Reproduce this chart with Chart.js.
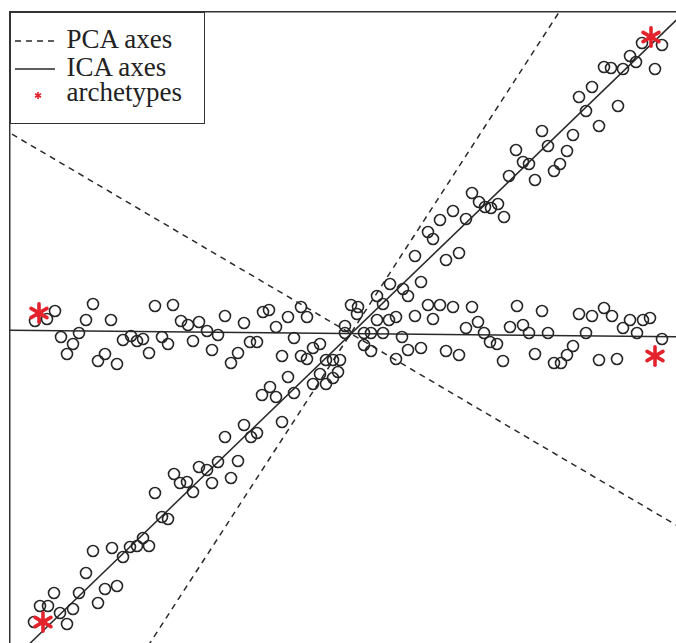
<!DOCTYPE html>
<html>
<head>
<meta charset="utf-8">
<script src="https://cdn.jsdelivr.net/npm/chart.js@4.4.1/dist/chart.umd.min.js"></script>
<style>
  html, body { margin: 0; padding: 0; background: #fff; }
  #wrap { position: relative; width: 676px; height: 643px; overflow: hidden; }
  #legend {
    position: absolute; left: 10px; top: 12px; width: 195px; height: 112px;
    box-sizing: border-box; border: 1.5px solid #333; background: #fff;
    font-family: "Liberation Serif", "Times New Roman", serif; font-size: 27px; color: #222;
  }
  .row { position: absolute; left: 0; width: 190px; height: 28px; line-height: 28px; white-space: nowrap; }
  .row svg { position: absolute; left: 3.5px; top: 0; }
  .row span { position: absolute; left: 55.5px; top: 0; }
</style>
</head>
<body>
<div id="wrap">
  <canvas id="myChart" width="676" height="643"></canvas>
  <div id="legend"></div>
</div>
<script>
// observations (two mixed sources)
var pointX = [
  -2.88, -2.96, -3.08, -2.50, -2.57, -2.32, -2.82, -2.64, -2.70, -2.76, -2.38, -2.45, -2.26,
  -1.88, -1.70, -1.62, -1.55, -1.44, -1.36, -1.25, -1.18, -2.20, -2.12, -2.06, -2.00, -1.81,
  -1.75, -1.94, -1.50, -1.31, -1.12, -1.05, -0.99, -0.93, -0.86, -0.80, -0.74, -0.67, -0.61,
  -0.55, -0.49, -0.42, -0.36, -0.42, -0.36, -0.30, -0.23, -0.17, -0.10, -0.03,
  0.02, 0.02, 0.08, 0.15, 0.14, 0.21, 0.28, 0.40, 0.21, 0.28, 0.59, 0.53, 0.65, 0.78, 1.03,
  1.16, 0.34, 0.46, 0.53, 0.72, 0.90, 0.85, 0.97, 1.10, 1.29,
  1.23, 1.35, 1.41, 1.47, 1.54, 1.67, 1.80, 1.86, 2.05, 2.43, 2.30, 2.24, 2.18, 2.11, 1.92,
  1.60, 2.56, 2.74, 1.74, 1.99, 2.36, 2.49, 2.61, 2.69, 2.87, 3.00, 3.07, 2.80, 2.94, 3.19,
  -0.55, -0.23, -0.05, -0.10, -0.30, -0.17, -0.73, -0.81, -0.67, -0.49, -0.61,
  -0.99, -0.92, -0.86, -1.18, -1.25, -1.05, -1.12, -1.31, -1.44, -1.36, -1.56, -1.63, -1.50,
  -1.69, -1.88, -1.81, -1.75, -2.00, -1.94, -2.13, -2.06, -2.20, -2.31, -2.50, -2.57, -2.64,
  -2.38, -2.26, -2.45, -2.70, -2.83, -2.89, -2.95, -3.03, -2.76, -3.09,
  0.34, 0.40, 0.47, 0.60, 0.65, 0.78, 0.72, 0.85, 0.90, 0.97, 1.03, 1.10, 1.16, 1.23, 1.29,
  1.36, 1.42, 1.48, 1.55, 1.61, 1.66, 1.73, 1.80, 1.86, 1.92, 1.99, 2.05, 2.11, 2.17, 2.24,
  2.30, 2.36, 2.43, 2.49, 2.56, 2.61, 2.68, 2.75, 2.80, 2.87, 2.93, 2.99, 3.12, 3.19
];
var pointY = [
  0.22, 0.14, 0.12, 0.29, 0.13, 0.13, -0.04, 0.00, -0.11, -0.21, -0.21, -0.28, -0.31,
  0.27, 0.28, 0.12, 0.08, 0.11, 0.02, -0.02, 0.17, -0.07, -0.03, -0.08, -0.06, -0.04,
  -0.11, -0.20, -0.08, -0.17, -0.30, -0.20, 0.10, -0.09, -0.09, 0.21, 0.23, 0.06, -0.23,
  0.16, -0.05, 0.26, 0.16, -0.23, -0.26, -0.15, -0.11, -0.27, -0.27, -0.27,
  0.07, 0.00, 0.28, 0.26, 0.19, 0.00, 0.00, 0.00, -0.12, -0.18, -0.04, -0.26, -0.17, -0.15, -0.18,
  -0.22, 0.13, 0.13, 0.16, 0.17, 0.14, 0.28, 0.28, 0.26, 0.26,
  0.05, 0.11, 0.00, -0.09, -0.11, 0.06, 0.08, 0.00, 0.00, 0.00, -0.13, -0.22, -0.30, -0.30, -0.21,
  -0.28, -0.27, -0.26, 0.27, 0.22, 0.19, 0.17, 0.25, 0.17, 0.13, 0.13, 0.15, 0.05, 0.00, -0.06,
  -0.44, -0.41, -0.39, -0.45, -0.51, -0.51, -0.54, -0.62, -0.64, -0.60, -0.89,
  -0.92, -1.04, -1.00, -1.04, -1.29, -1.28, -1.45, -1.50, -1.34, -1.37, -1.49, -1.50, -1.59,
  -1.41, -1.60, -1.84, -1.86, -2.05, -2.13, -2.14, -2.13, -2.24, -2.15, -2.18, -2.40, -2.60,
  -2.56, -2.53, -2.70, -2.76, -2.80, -2.60, -2.73, -2.73, -2.91, -2.89,
  0.37, 0.29, 0.49, 0.44, 0.37, 0.51, 0.77, 1.01, 0.94, 1.13, 0.73, 1.22, 0.80, 1.14, 1.40,
  1.31, 1.26, 1.25, 1.29, 1.16, 1.57, 1.83, 1.71, 1.69, 1.53, 2.02, 1.87, 1.62, 1.69, 1.82,
  1.98, 2.36, 2.22, 2.46, 2.07, 2.66, 2.65, 2.27, 2.64, 2.77, 2.71, 2.90, 2.64, 2.88
];

// archetypes
var archX = [-3.04, 3.08, 3.12, -3.00];
var archY = [0.20, 2.96, -0.23, -2.89];

// axis end points [start, end]
var pcaAX = [-2.19, 2.35], pcaAY = [-3.50, 3.50];
var pcaBX = [-3.50, 3.50], pcaBY = [2.10, -2.02];
var icaAX = [-3.50, 3.50], icaAY = [-3.46, 3.29];
var icaBX = [-3.50, 3.50], icaBY = [0.03, -0.04];

var xRange = [-3.33, 3.33];
var yRange = [-3.10, 3.21];

var legendLabels = ["PCA axes", "ICA axes", "archetypes"];

var red = "#e3222c";

function toXY(xs, ys) {
    return xs.map(function(x, i){ return {x: x, y: ys[i]}; });
}

// six armed asterisk, like R's "*" symbol
function asterisk(size, lw) {
    var c = document.createElement("canvas");
    c.width = size; c.height = size;
    var g = c.getContext("2d");
    var r = size / 2 - lw / 2;
    g.strokeStyle = red;
    g.lineWidth = lw;
    g.lineCap = "round";
    g.translate(size / 2, size / 2);
    [90, 30, -30].forEach(function(a){
        var t = a * Math.PI / 180;
        g.beginPath();
        g.moveTo(-Math.cos(t) * r, -Math.sin(t) * r);
        g.lineTo(Math.cos(t) * r, Math.sin(t) * r);
        g.stroke();
    });
    return c;
}

function axisLine(xs, ys, dash, label) {
    return {
        label: label,
        data: toXY(xs, ys),
        showLine: true,
        borderColor: "#2a2a2a",
        borderWidth: 1.5,
        borderDash: dash,
        pointRadius: 0,
        fill: false
    };
}

var data = {
    datasets: [
        {
            label: legendLabels[2],
            data: toXY(archX, archY),
            pointStyle: asterisk(22, 3.6),
            pointRadius: 11,
            borderColor: red,
            backgroundColor: red
        },
        {
            label: "data",
            data: toXY(pointX, pointY),
            pointStyle: "circle",
            pointRadius: 5.5,
            borderWidth: 1.6,
            borderColor: "#262626",
            backgroundColor: "rgba(0,0,0,0)"
        },
        axisLine(pcaAX, pcaAY, [6, 5], legendLabels[0]),
        axisLine(pcaBX, pcaBY, [6, 5], legendLabels[0]),
        axisLine(icaAX, icaAY, [], legendLabels[1]),
        axisLine(icaBX, icaBY, [], legendLabels[1])
    ]
};

var frameAxis = {
    type: "linear",
    grid: { display: false, drawTicks: false, tickLength: 0 },
    ticks: { display: false },
    border: { display: true, color: "#333", width: 1.5 }
};

var options = {
    responsive: false,
    animation: false,
    layout: { padding: { left: 10, top: 12, right: 0, bottom: 0 }, autoPadding: false },
    plugins: { legend: { display: false }, tooltip: { enabled: false } },
    scales: {
        x: Object.assign({}, frameAxis, { position: "top", min: xRange[0], max: xRange[1] }),
        y: Object.assign({}, frameAxis, { position: "left", min: yRange[0], max: yRange[1] })
    }
};

var ctx = document.getElementById("myChart");
var chart = new Chart(ctx, { type: "scatter", data: data, options: options });

// html legend, same look as the base R legend box
var samples = [
    '<svg width="40" height="28"><line x1="0" y1="16" x2="40" y2="16" stroke="#2a2a2a" stroke-width="1.5" stroke-dasharray="6 5"/></svg>',
    '<svg width="40" height="28"><line x1="0" y1="16" x2="40" y2="16" stroke="#2a2a2a" stroke-width="1.5"/></svg>',
    '<svg width="40" height="28"><g stroke="' + red + '" stroke-width="1.6"><line x1="23" y1="14" x2="23" y2="21"/><line x1="20" y1="15.8" x2="26" y2="19.2"/><line x1="20" y1="19.2" x2="26" y2="15.8"/></g></svg>'
];
var rowTops = [11.9, 39.9, 65.4];
var legend = document.getElementById("legend");
legendLabels.forEach(function(label, i){
    var row = document.createElement("div");
    row.className = "row";
    row.style.top = rowTops[i] + "px";
    row.innerHTML = samples[i] + "<span>" + label + "</span>";
    legend.appendChild(row);
});
</script>
</body>
</html>
